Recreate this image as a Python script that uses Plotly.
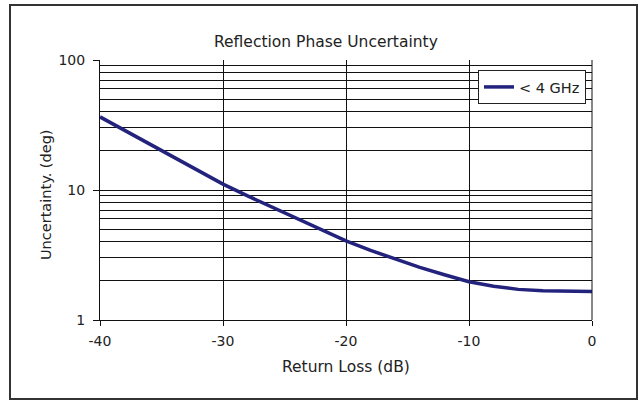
import plotly.graph_objects as go

return_loss_db = [-40, -38, -36, -34, -32, -30, -28, -26, -24, -22, -20,
                  -18, -16, -14, -12, -10, -8, -6, -4, -2, 0]
uncertainty_deg = [36.5, 28.8, 22.6, 17.9, 14.1, 11.1, 9.0, 7.35, 6.0, 4.9, 4.06,
                   3.43, 2.95, 2.54, 2.23, 1.97, 1.82, 1.72, 1.68, 1.67, 1.66]
series_name = "< 4 GHz"
x_ticks = [-40, -30, -20, -10, 0]
y_ticks = [1, 10, 100]

FONT = "DejaVu Sans"
W, H = 643, 403
L, R, T, B = 100, 592, 60, 320

fig = go.Figure()
fig.add_trace(go.Scatter(
    x=return_loss_db, y=uncertainty_deg, mode="lines", name=series_name,
    line=dict(color="#23237d", width=3.5),
))

def px_to_paper_x(px):
    return (px - L) / (R - L)

def px_to_paper_y(py):
    return (B - py) / (B - T)

fig.update_layout(
    width=W, height=H,
    margin=dict(l=L, r=W - R, t=T, b=H - B, pad=0),
    paper_bgcolor="white", plot_bgcolor="white",
    font=dict(family=FONT, size=12, color="#222"),
    showlegend=True,
    legend=dict(
        x=px_to_paper_x(586), y=px_to_paper_y(70), xanchor="right", yanchor="top",
        bgcolor="white", bordercolor="#222", borderwidth=1,
        font=dict(family=FONT, size=14.5, color="#222"),
        itemwidth=30, tracegroupgap=0,
    ),
    xaxis=dict(
        range=[-40, 0], tickvals=x_ticks, ticktext=[str(v) for v in x_ticks],
        showgrid=True, gridcolor="#111", gridwidth=1,
        showline=True, linecolor="#111", linewidth=1,
        ticks="outside", ticklen=5, tickcolor="#111", ticklabelstandoff=3,
        tickfont=dict(family=FONT, size=14, color="#222"),
        zeroline=False, mirror=False,
    ),
    yaxis=dict(
        type="log", range=[0, 2], tickvals=y_ticks, ticktext=[str(v) for v in y_ticks],
        showgrid=True, gridcolor="#111", gridwidth=1,
        showline=True, linecolor="#111", linewidth=1,
        ticks="outside", ticklen=6, tickcolor="#111", ticklabelstandoff=5,
        tickfont=dict(family=FONT, size=14, color="#222"),
        minor=dict(dtick="D1", showgrid=True, gridcolor="#111", gridwidth=1, ticks=""),
        zeroline=False,
    ),
    annotations=[
        dict(text="Reflection Phase Uncertainty", xref="paper", yref="paper",
             x=px_to_paper_x(326), y=px_to_paper_y(42), xanchor="center", yanchor="middle",
             showarrow=False, font=dict(family=FONT, size=15.5, color="#222")),
        dict(text="Return Loss (dB)", xref="paper", yref="paper",
             x=px_to_paper_x(346), y=px_to_paper_y(367), xanchor="center", yanchor="middle",
             showarrow=False, font=dict(family=FONT, size=15.5, color="#222")),
        dict(text="Uncertainty. (deg)", xref="paper", yref="paper", textangle=-90,
             x=px_to_paper_x(46), y=px_to_paper_y(195), xanchor="center", yanchor="middle",
             showarrow=False, font=dict(family=FONT, size=14.5, color="#222")),
    ],
    shapes=[
        dict(type="rect", xref="paper", yref="paper",
             x0=px_to_paper_x(10), x1=px_to_paper_x(637),
             y0=px_to_paper_y(399), y1=px_to_paper_y(5),
             line=dict(color="#333", width=2), fillcolor="rgba(0,0,0,0)", layer="below"),
        dict(type="line", xref="paper", yref="paper", x0=1, x1=1, y0=0, y1=1,
             line=dict(color="#111", width=1)),
    ],
)

fig.write_html(
    "out.html",
    config={"displayModeBar": False},
    post_script="document.body.style.margin='0px';document.body.style.overflow='hidden';",
)
